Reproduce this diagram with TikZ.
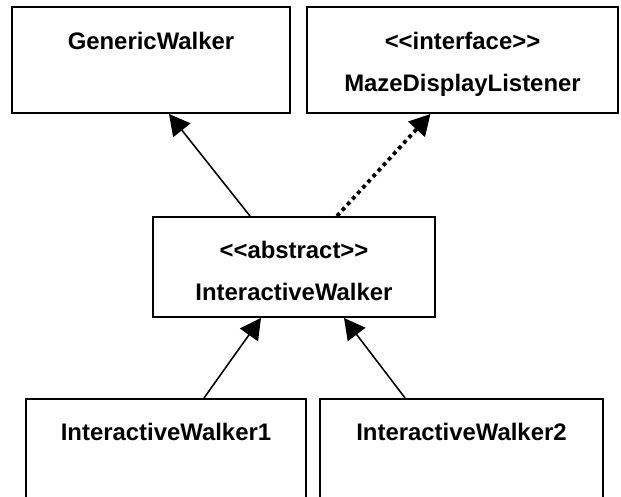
\documentclass[tikz,border=0pt]{standalone}
\usepackage{fontspec}
\setmainfont{Liberation Sans}
\usetikzlibrary{arrows.meta}
\newcommand{\estereotipo}[1]{<\kern0pt<#1>\kern0pt>}
\tikzset{
  clase/.style={draw, rectangle, line width=1.4pt},
  nombre/.style={anchor=base, font=\fontsize{17}{20}\selectfont\bfseries},
  hereda/.style={line width=1.1pt, -{Triangle[length=0.52cm,width=0.55cm]}},
  implementa/.style={hereda, line width=2.7pt, dash pattern=on 2.7pt off 2.7pt}
}
\begin{document}
\begin{tikzpicture}
        \useasboundingbox (0,0) rectangle (15.525,-12.425);
        \clip (0,0) rectangle (15.525,-12.425);
        % clases
        \node[clase, minimum width=6.95cm, minimum height=2.65cm] (generic) at (3.775,-1.5) {};
        \node[clase, minimum width=7.775cm, minimum height=2.65cm] (listener) at (11.5625,-1.5) {};
        \node[clase, minimum width=7.05cm, minimum height=2.5cm] (interactive) at (7.35,-6.675) {};
        \node[clase, minimum width=7cm, minimum height=4cm] (walker1) at (4.15,-11.975) {};
        \node[clase, minimum width=7.075cm, minimum height=4cm] (walker2) at (11.5375,-11.975) {};
        % nombres
        \node[nombre] (genericnom) at (3.775,-1.25) {GenericWalker};
        \node[nombre] (listenerest) at (11.5625,-1.25) {\estereotipo{interface}};
        \node[nombre] (listenernom) at (11.5625,-2.3) {MazeDisplayListener};
        \node[nombre] (interactiveest) at (7.35,-6.475) {\estereotipo{abstract}};
        \node[nombre] (interactivenom) at (7.35,-7.525) {InteractiveWalker};
        \node[nombre] (walker1nom) at (4.15,-11.025) {InteractiveWalker1};
        \node[nombre] (walker2nom) at (11.5375,-11.025) {InteractiveWalker2};
        % relaciones
        \draw[hereda] ([xshift=-1.1cm]interactive.north) -- ([xshift=0.45cm]generic.south);
        \draw[implementa] ([xshift=1.075cm]interactive.north) -- ([xshift=-0.8cm]listener.south);
        \draw[hereda] ([xshift=0.95cm]walker1.north) -- ([xshift=-0.825cm]interactive.south);
        \draw[hereda] ([xshift=-1.41cm]walker2.north) -- ([xshift=1.25cm]interactive.south);
    \end{tikzpicture}
\end{document}
